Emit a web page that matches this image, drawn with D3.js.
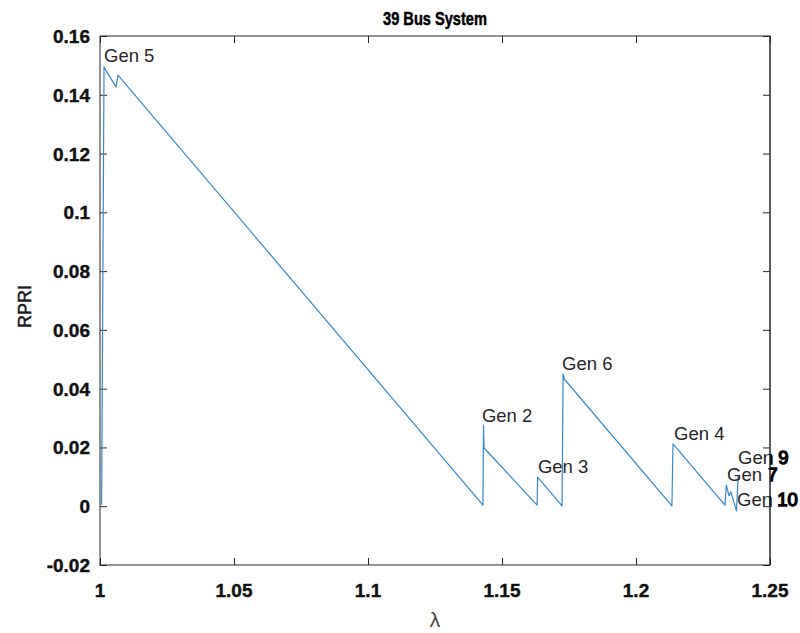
<!DOCTYPE html>
<html>
<head>
<meta charset="utf-8">
<script src="https://cdn.jsdelivr.net/npm/d3@7"></script>
<style>
  html, body { margin: 0; padding: 0; background: #ffffff; }
  svg { display: block; }
</style>
</head>
<body>
<svg id="chart" width="800" height="633"></svg>
<script>
// RPRI trace against loading factor lambda
const lambdaValues = [1.0006, 1.0015, 1.0060, 1.0067, 1.1429, 1.1431, 1.1433, 1.1631, 1.1633, 1.1724,
                      1.1728, 1.1733, 1.2134, 1.2138, 1.2332, 1.2337, 1.2347, 1.2354, 1.2375, 1.2381];
const rpriValues   = [0.0005, 0.1494, 0.1426, 0.1467, 0.0004, 0.0276, 0.0198, 0.0004, 0.0099, 0.0001,
                      0.0450, 0.0432, 0.0001, 0.0212, 0.0004, 0.0072, 0.0035, 0.0049, -0.0016, 0.0099];

// generator annotations (text anchor in data units)
const genNames   = ["Gen 5", "Gen 2", "Gen 3", "Gen 6", "Gen 4", "Gen 9", "Gen 7", "Gen 10"];
const genLambda  = [1.0015, 1.1425, 1.1634, 1.1724, 1.2142, 1.2381, 1.2340, 1.2377];
const genRpri    = [0.1511, 0.0287, 0.0113, 0.0463, 0.0225, 0.0144, 0.0086, 0.0001];

const xTicks = [1, 1.05, 1.1, 1.15, 1.2, 1.25];
const xTickLabels = ["1", "1.05", "1.1", "1.15", "1.2", "1.25"];
const yTicks = [-0.02, 0, 0.02, 0.04, 0.06, 0.08, 0.1, 0.12, 0.14, 0.16];
const yTickLabels = ["-0.02", "0", "0.02", "0.04", "0.06", "0.08", "0.1", "0.12", "0.14", "0.16"];

const titleText = "39 Bus System";
const xLabelText = "λ";
const yLabelText = "RPRI";

const margin = { left: 100, right: 30, top: 36, bottom: 68 };
const W = 800, H = 633;
const svg = d3.select("#chart");

const x = d3.scaleLinear().domain([1, 1.25]).range([margin.left, W - margin.right]);
const y = d3.scaleLinear().domain([-0.02, 0.16]).range([H - margin.bottom, margin.top]);

const axisColor = "#262626";
const tickLen = 7;
const font = "'Liberation Sans', Arial, sans-serif";

// clip regions: inside the axes box and to its right
const defs = svg.append("defs");
defs.append("clipPath").attr("id", "inside")
  .append("rect").attr("x", x.range()[0]).attr("y", 0)
  .attr("width", x.range()[1] - x.range()[0]).attr("height", H);
defs.append("clipPath").attr("id", "outside")
  .append("rect").attr("x", x.range()[1]).attr("y", 0)
  .attr("width", W - x.range()[1]).attr("height", H);

// axes with inward ticks on all four sides
const bottomAxis = d3.axisBottom(x).tickValues(xTicks).tickSize(-tickLen).tickFormat("");
const topAxis = d3.axisTop(x).tickValues(xTicks).tickSize(-tickLen).tickFormat("");
const leftAxis = d3.axisLeft(y).tickValues(yTicks).tickSize(-tickLen).tickFormat("");
const rightAxis = d3.axisRight(y).tickValues(yTicks).tickSize(-tickLen).tickFormat("");

function styleAxis(g) {
  g.select(".domain").remove();
  g.selectAll(".tick line").attr("stroke", axisColor).attr("stroke-width", 1);
}
svg.append("g").attr("transform", `translate(0,${y.range()[0]})`).call(bottomAxis).call(styleAxis);
svg.append("g").attr("transform", `translate(0,${y.range()[1]})`).call(topAxis).call(styleAxis);
svg.append("g").attr("transform", `translate(${x.range()[0]},0)`).call(leftAxis).call(styleAxis);
svg.append("g").attr("transform", `translate(${x.range()[1]},0)`).call(rightAxis).call(styleAxis);

// axes box
svg.append("rect")
  .attr("x", x.range()[0]).attr("y", y.range()[1])
  .attr("width", x.range()[1] - x.range()[0])
  .attr("height", y.range()[0] - y.range()[1])
  .attr("fill", "none").attr("stroke", axisColor).attr("stroke-width", 1);

// tick labels
svg.append("g").selectAll("text").data(xTicks).join("text")
  .attr("x", d => x(d)).attr("y", y.range()[0] + 32)
  .attr("text-anchor", "middle")
  .attr("font-family", font).attr("font-size", 19).attr("font-weight", "bold")
  .attr("fill", "#111").attr("stroke", "#111").attr("stroke-width", 0.4)
  .text((d, i) => xTickLabels[i]);

svg.append("g").selectAll("text").data(yTicks).join("text")
  .attr("x", x.range()[0] - 10).attr("y", d => y(d) + 7)
  .attr("text-anchor", "end")
  .attr("font-family", font).attr("font-size", 19).attr("font-weight", "bold")
  .attr("fill", "#111").attr("stroke", "#111").attr("stroke-width", 0.4)
  .text((d, i) => yTickLabels[i]);

// title
svg.append("text")
  .attr("x", (x.range()[0] + x.range()[1]) / 2).attr("y", 25)
  .attr("text-anchor", "middle")
  .attr("font-family", font).attr("font-size", 19).attr("font-weight", "bold")
  .attr("textLength", 104).attr("lengthAdjust", "spacingAndGlyphs")
  .attr("fill", "#000").attr("stroke", "#000").attr("stroke-width", 0.5)
  .text(titleText);

// axis labels
svg.append("text")
  .attr("x", (x.range()[0] + x.range()[1]) / 2).attr("y", 627)
  .attr("text-anchor", "middle")
  .attr("font-family", font).attr("font-size", 21)
  .attr("fill", "#444")
  .text(xLabelText);

svg.append("text")
  .attr("transform", `translate(31,${(y.range()[0] + y.range()[1]) / 2 + 6}) rotate(-90)`)
  .attr("text-anchor", "middle")
  .attr("font-family", font).attr("font-size", 18)
  .attr("fill", "#1a1a1a").attr("stroke", "#1a1a1a").attr("stroke-width", 0.5)
  .text(yLabelText);

// data line
const pts = lambdaValues.map((l, i) => [l, rpriValues[i]]);
svg.append("path")
  .datum(pts)
  .attr("fill", "none")
  .attr("stroke", "#3389cb")
  .attr("stroke-width", 1.2)
  .attr("stroke-linejoin", "round")
  .attr("d", d3.line().x(d => x(d[0])).y(d => y(d[1])));

// generator annotations; the part past the right edge of the box renders heavier
const labels = genNames.map((n, i) => ({ name: n, l: genLambda[i], v: genRpri[i] }));
svg.append("g").attr("clip-path", "url(#inside)")
  .selectAll("text").data(labels).join("text")
  .attr("x", d => x(d.l)).attr("y", d => y(d.v))
  .attr("font-family", font).attr("font-size", 18.5)
  .attr("fill", "#262626")
  .text(d => d.name);
svg.append("g").attr("clip-path", "url(#outside)")
  .selectAll("text").data(labels).join("text")
  .attr("x", d => x(d.l)).attr("y", d => y(d.v))
  .attr("font-family", font).attr("font-size", 18.5)
  .attr("fill", "#000").attr("stroke", "#000").attr("stroke-width", 1.4)
  .text(d => d.name);

// redraw right edge so it sits above the labels
svg.append("line")
  .attr("x1", x.range()[1]).attr("x2", x.range()[1])
  .attr("y1", y.range()[1]).attr("y2", y.range()[0])
  .attr("stroke", axisColor).attr("stroke-width", 1);
</script>
</body>
</html>
